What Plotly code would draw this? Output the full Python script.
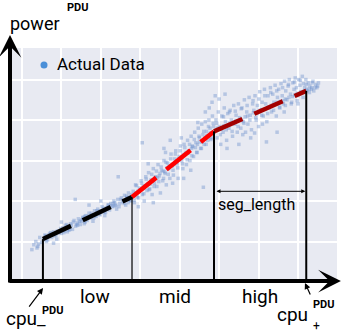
import plotly.graph_objects as go

# piecewise linear fit: breakpoints (cpu %, power W)
bp_cpu = [5.3, 27.9, 48.7, 72.1]
bp_power = [53, 105, 186, 236]
seg_names = ["low", "mid", "high"]
seg_colors = ["#000000", "#ff0000", "#a30000"]
seg_length_y = 112

sc_cpu = [
    2.5, 3, 3.5, 3.8, 4, 4.5, 5, 5.5, 6, 6.2,
    7, 7.5, 8, 8, 8.3, 8.8, 9, 10, 10, 10.4,
    10.8, 11, 11.5, 12, 12.3, 12.8, 13.2, 13.5, 13.6, 14,
    14.3, 14.8, 15, 15.5, 15.8, 16.2, 16.5, 17, 17, 17.3,
    17.8, 18, 18.4, 18.8, 19.2, 19.6, 20, 20, 20.3, 20.8,
    21, 21.4, 21.8, 22.2, 22.5, 23, 23.3, 23.8, 24, 24.3,
    24.4, 24.8, 25.2, 25.5, 26, 26.3, 26.8, 27, 27.4, 27.8,
    28.2, 28.5, 28.8, 29.2, 29.5, 29.8, 30.2, 30.5, 30.5, 30.8,
    31, 31.4, 31.7, 32.1, 32.4, 32.7, 33, 33.3, 33.3, 33.6,
    33.9, 34.2, 34.5, 34.8, 35.1, 35.4, 35.7, 36, 36, 36.3,
    36.6, 36.9, 37.2, 37.5, 37.6, 37.8, 38.1, 38.4, 38.7, 39,
    39.3, 39.6, 39.9, 40.2, 40.5, 40.8, 41, 41.1, 41.4, 41.7,
    42, 42.3, 42.6, 42.9, 43.2, 43.5, 43.8, 44.1, 44.4, 44.7,
    45, 45.3, 45.6, 45.9, 46, 46.2, 46.5, 46.5, 46.8, 47.1,
    47.4, 47.5, 47.7, 48, 48.2, 48.3, 48.6, 49, 49.2, 49.5,
    49.8, 50, 50.1, 50.4, 50.7, 51, 51.3, 51.5, 51.6, 51.9,
    52, 52.2, 52.5, 52.8, 53.1, 53.4, 53.7, 54, 54.3, 54.6,
    54.9, 55, 55.2, 55.5, 55.8, 56.1, 56.4, 56.7, 57, 57.3,
    57.6, 57.9, 58, 58.2, 58.5, 58.8, 59.1, 59.4, 59.7, 60,
    60.3, 60.6, 60.9, 61.2, 61.5, 61.8, 62, 62.1, 62.4, 62.7,
    63, 63.3, 63.6, 63.9, 64.2, 64.5, 64.7, 64.8, 65.1, 65.4,
    65.7, 66, 66.3, 66.6, 66.9, 67.2, 67.5, 67.8, 68.1, 68.4,
    68.7, 69, 69.3, 69.6, 69.9, 70.2, 70.5, 70.8, 71.1, 71.4,
    71.7, 72, 72.3, 72.6, 73, 73.4, 73.8, 74, 74.5, 74.8,
    75.2,
    6.8, 9.5, 11.7, 13.9, 15.2, 16.8, 18.6, 19.9, 21.6, 23.6,
    25.8, 26.6, 27.2, 7.8, 9.2, 12.5, 14.6, 17.5, 19.4, 22.8,
    28.9, 30, 31.2, 32.5, 33.8, 35, 36.2, 37.3, 38.5, 39.7,
    40.9, 42.1, 43.3, 44.5, 45.7, 46.9, 48.1, 29.4, 31.9, 34.4,
    36.8, 39.2, 41.6, 44, 46.4, 35.8, 38, 43, 45, 47.8,
    49.6, 51.2, 52.7, 54.2, 55.7, 57.2, 58.7, 60.2, 61.7, 63.2,
    64.7, 66.2, 67.7, 69.2, 70.7, 72.2, 73.5, 50.6, 53.6, 56.6,
    59.6, 62.6, 65.6, 68.6, 71.6, 60.8, 63.8, 66.8, 69.8, 72.8,
    4.2, 5.8, 6.5, 7.3, 8.6, 9.8, 10.6, 11.3, 12.1, 13,
    14.1, 15.4, 16, 17.6, 18.2, 19, 20.6, 21.2, 22, 23.5,
    24.6, 25, 25.9, 26.5, 27.6, 11.9, 15.9, 19.8, 23.1, 26.9,
    28.4, 29, 29.6, 30.3, 30.9, 31.5, 32.2, 32.9, 33.5, 34.1,
    34.7, 35.3, 35.9, 36.5, 37.1, 37.7, 38.3, 38.9, 39.5, 40.1,
    40.7, 41.3, 41.9, 42.5, 43.1, 43.7, 44.3, 44.9, 45.5, 46.1,
    46.7, 47.3, 47.9, 48.5, 32, 36.4, 40.4, 44.6, 38.2, 42.8,
    49.4, 50.3, 51.1, 51.8, 52.6, 53.3, 54.1, 54.8, 55.6, 56.3,
    57.1, 57.8, 58.6, 59.3, 60.1, 60.8, 61.6, 62.3, 63.1, 63.8,
    64.6, 65.3, 66.1, 66.8, 67.6, 68.3, 69.1, 69.8, 70.6, 71.3,
    72.1, 72.9, 73.6, 74.3, 75, 56, 59, 61, 66.5, 70,
]
sc_power = [
    40, 46, 50, 42, 44, 55, 49, 52, 57, 50,
    60, 55, 62, 48, 57, 53, 63, 60, 74, 67,
    63, 70, 62, 68, 72, 65, 76, 102, 69, 73,
    78, 71, 75, 80, 72, 82, 76, 85, 95, 79,
    83, 75, 88, 81, 90, 84, 87, 100, 93, 86,
    82, 91, 95, 89, 97, 93, 100, 95, 90, 102,
    130, 97, 104, 99, 107, 95, 103, 110, 101, 108,
    112, 98, 120, 105, 93, 116, 125, 108, 172, 118,
    100, 130, 113, 135, 115, 126, 108, 140, 98, 122,
    130, 118, 145, 131, 110, 138, 125, 150, 165, 134,
    120, 147, 140, 128, 175, 158, 144, 132, 152, 162,
    146, 128, 155, 168, 150, 140, 128, 170, 158, 145,
    175, 162, 150, 180, 168, 155, 185, 172, 160, 190,
    178, 165, 195, 182, 117, 170, 198, 210, 186, 175,
    200, 215, 190, 178, 222, 205, 192, 230, 200, 178,
    210, 226, 192, 170, 205, 185, 215, 232, 198, 175,
    165, 208, 190, 212, 200, 180, 218, 195, 206, 185,
    220, 170, 203, 190, 215, 198, 225, 185, 210, 195,
    228, 206, 178, 188, 220, 212, 230, 200, 218, 192,
    235, 212, 222, 205, 238, 220, 173, 198, 230, 215,
    240, 210, 232, 222, 243, 205, 185, 228, 238, 215,
    245, 230, 220, 248, 236, 225, 242, 250, 232, 222,
    246, 238, 252, 240, 230, 250, 243, 235, 254, 245,
    240, 250, 236, 246, 242, 238, 248, 236, 244, 240,
    246,
    58, 61, 69, 71, 77, 81, 82, 88, 92, 94,
    101, 104, 105, 59, 61, 70, 75, 80, 86, 94,
    110, 114, 119, 121, 129, 134, 136, 143, 145, 152,
    157, 159, 167, 170, 173, 181, 184, 112, 121, 129,
    141, 148, 160, 166, 178, 137, 143, 165, 173, 184,
    190, 193, 196, 199, 200, 205, 209, 212, 214, 218,
    222, 224, 228, 231, 234, 238, 240, 189, 197, 204,
    208, 216, 223, 229, 236, 213, 219, 226, 233, 238,
    47, 58, 52, 61, 58, 66, 61, 71, 65, 74,
    70, 79, 74, 85, 79, 88, 91, 86, 95, 98,
    93, 102, 97, 106, 100, 64, 81, 83, 97, 98,
    101, 119, 104, 122, 109, 127, 114, 133, 118, 137,
    124, 142, 128, 148, 133, 152, 138, 158, 141, 162,
    146, 166, 151, 170, 156, 176, 160, 180, 165, 186,
    170, 192, 176, 196, 146, 160, 178, 197, 122, 138,
    196, 182, 204, 188, 210, 186, 211, 192, 214, 196,
    218, 200, 224, 203, 226, 206, 230, 208, 234, 212,
    236, 216, 240, 218, 244, 220, 247, 224, 249, 228,
    244, 234, 246, 240, 242, 182, 184, 195, 210, 220,
]

FONT = "Roboto"

fig = go.Figure()
fig.add_trace(go.Scatter(
    x=sc_cpu, y=sc_power, mode="markers", showlegend=False,
    marker=dict(symbol="square", size=3.5, color="rgba(110,145,205,0.42)", line=dict(width=0)),
))

for i, name in enumerate(seg_names):
    fig.add_trace(go.Scatter(
        x=bp_cpu[i:i + 2], y=bp_power[i:i + 2], mode="lines", name=name, showlegend=False,
        line=dict(color=seg_colors[i], width=4.5, dash="31px,13px"),
    ))

# drop lines from each breakpoint to the cpu axis
for bx, by, w in zip(bp_cpu, bp_power, [2, 1.2, 2, 2]):
    fig.add_shape(type="line", x0=bx, x1=bx, y0=0, y1=by, line=dict(color="black", width=w))

# legend dot
fig.add_shape(type="circle", xref="paper", yref="paper", xsizemode="pixel", ysizemode="pixel",
              xanchor=0.104, yanchor=0.927, x0=-3.5, x1=3.5, y0=-3.5, y1=3.5,
              fillcolor="#4a8fd8", line=dict(width=0))

ann = []


def txt(text, x, y, size, xanchor="center", bold=False):
    ann.append(dict(text=f"<b>{text}</b>" if bold else text, x=x, y=y, xref="paper", yref="paper",
                    showarrow=False, xanchor=xanchor, yanchor="middle",
                    font=dict(family=FONT, size=size, color="black")))


def arrow(x, y, ax, ay, width, head, size):
    # ax / ay: tail offset in pixels from the head
    ann.append(dict(text="", x=x, y=y, ax=ax, ay=ay, xref="paper", yref="paper",
                    axref="pixel", ayref="pixel", showarrow=True, arrowhead=head,
                    arrowwidth=width, arrowsize=size, arrowcolor="black"))


# axes drawn as arrows
arrow(0, 1.056, 0, 249, 4, 3, 0.95)
arrow(1.012, 0.004, -333, 0, 4, 3, 0.95)
arrow(0.101, -0.026, -15, 20, 1.2, 2, 1)
arrow(0.902, -0.004, 6, 13, 1.2, 2, 1)

txt("power", -0.006, 1.104, 18, xanchor="left")
txt("PDU", 0.208, 1.171, 11, bold=True)
txt("Actual Data", 0.138, 0.932, 17, xanchor="left")
for name, lx in zip(seg_names, [0.26, 0.505, 0.765]):
    txt(name, lx, -0.064, 19)
txt("seg_length", 0.755, 0.333, 16)
txt("cpu_", 0.049, -0.154, 19)
txt("PDU", 0.131, -0.12, 11, bold=True)
txt("cpu", 0.865, -0.141, 19)
txt("+", 0.936, -0.188, 12)
txt("PDU", 0.96, -0.098, 11, bold=True)

# seg_length double arrow
ann.append(dict(text="", x=bp_cpu[3], y=seg_length_y, ax=bp_cpu[2], ay=seg_length_y,
                xref="x", yref="y", axref="x", ayref="y", showarrow=True,
                arrowside="end+start", arrowhead=2, arrowsize=0.8, arrowwidth=1,
                arrowcolor="black", standoff=1, startstandoff=1))

fig.update_layout(
    width=342, height=332,
    margin=dict(l=10, r=5, t=48, b=50),
    paper_bgcolor="white", plot_bgcolor="#e8eaf2",
    font=dict(family=FONT),
    annotations=ann,
    showlegend=False,
)
fig.update_xaxes(range=[-3.05, 79.9], tick0=0, dtick=10, showticklabels=False, ticks="",
                 zeroline=False, showline=False, gridcolor="white", gridwidth=1.5)
fig.update_yaxes(range=[0, 289], tick0=0, dtick=50, showticklabels=False, ticks="",
                 zeroline=False, showline=False, gridcolor="white", gridwidth=1.5)

# the page's default body margin would push the figure 8px down and right
fig.write_html("out.html", config={"displayModeBar": False},
               post_script="document.body.style.margin='0';")
